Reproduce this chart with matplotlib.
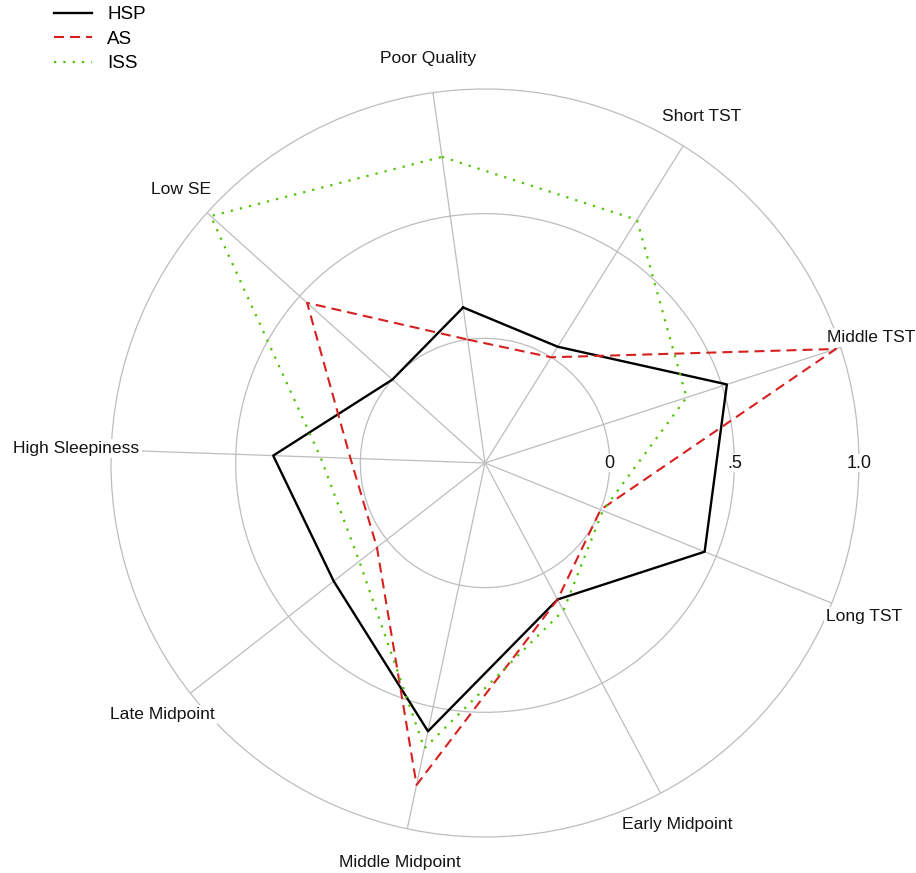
import numpy as np
import matplotlib
matplotlib.use("Agg")
import matplotlib.pyplot as plt
from matplotlib.lines import Line2D

plt.rcParams['font.family'] = ['Liberation Sans', 'DejaVu Sans']

# Sleep-profile dimensions, listed clockwise from the top
categories = ["Poor Quality", "Short TST", "Middle TST", "Long TST",
              "Early Midpoint", "Middle Midpoint", "Late Midpoint",
              "High Sleepiness", "Low SE"]

# Standardised scores per group
hsp = [0.13, 0.05, 0.52, 0.45, 0.12, 0.60, 0.27, 0.35, 0.00]
as_ = [0.00, 0.00, 0.98, 0.00, 0.12, 0.82, 0.05, 0.04, 0.46]
iss = [0.74, 0.65, 0.35, 0.01, 0.17, 0.67, 0.14, 0.16, 0.98]

series_names = ["HSP", "AS", "ISS"]
ring_values = [0.0, 0.5, 1.0]
ring_labels = ["0", ".5", "1.0"]

GRID = "#BDBDBD"
TEXT = "#141414"

fig = plt.figure(figsize=(9.16, 8.73), dpi=100)
W, H = 916, 873
cx, cy, R = 485, 463, 374
ax = fig.add_axes([(cx - R) / W, (H - cy - R) / H, 2 * R / W, 2 * R / H],
                  projection="polar")

n = len(categories)
theta = np.linspace(0, 2 * np.pi, n, endpoint=False)
ax.set_theta_offset(np.deg2rad(98))
ax.set_theta_direction(-1)
ax.set_ylim(-0.5, 1.0)

ax.set_xticks(theta)
ax.set_xticklabels([])
ax.set_yticks([0.0, 0.5])
ax.set_yticklabels([])
ax.grid(True, color=GRID, linewidth=0.9)
ax.spines["polar"].set_color(GRID)
ax.spines["polar"].set_linewidth(0.9)
ax.tick_params(length=0)

def closed(vals):
    v = list(vals)
    return np.append(theta, theta[0]), v + v[:1]

styles = [
    dict(color="black", linewidth=1.7, linestyle="-"),
    dict(color="#D62020", linewidth=1.5, linestyle=(0, (4.8, 2.9))),
    dict(color="#4DC300", linewidth=1.6, linestyle=(0, (1, 3.2)),
         dash_capstyle="butt"),
]

for vals, st in zip([hsp, as_, iss], styles):
    t, v = closed(vals)
    ax.plot(t, v, zorder=3, **st)

# Category labels just outside the outer ring
for ang, name in zip(theta, categories):
    r_lab = 1.13 if name == "Middle TST" else 1.14
    ax.text(ang, r_lab, name, ha="center", va="center", fontsize=12.6,
            color=TEXT, clip_on=False, zorder=5,
            bbox=dict(facecolor="white", edgecolor="none", pad=1.5))

# Ring value labels along the horizontal (east) direction
east = np.deg2rad(98)
for rv, lab in zip(ring_values, ring_labels):
    ax.text(east, rv, lab, ha="center", va="center", fontsize=13,
            color=TEXT, clip_on=False, zorder=4,
            bbox=dict(facecolor="white", edgecolor="none", pad=0.5))

handles = [Line2D([0], [0], **st) for st in styles]
fig.legend(handles, series_names, loc="upper left",
           bbox_to_anchor=(54 / W, 1 - 6 / H), frameon=False,
           fontsize=13.5, handlelength=2.0, handletextpad=0.85,
           labelspacing=0.4, borderpad=0.0, borderaxespad=0.0)

fig.savefig("out.png", dpi=100, facecolor="white")
